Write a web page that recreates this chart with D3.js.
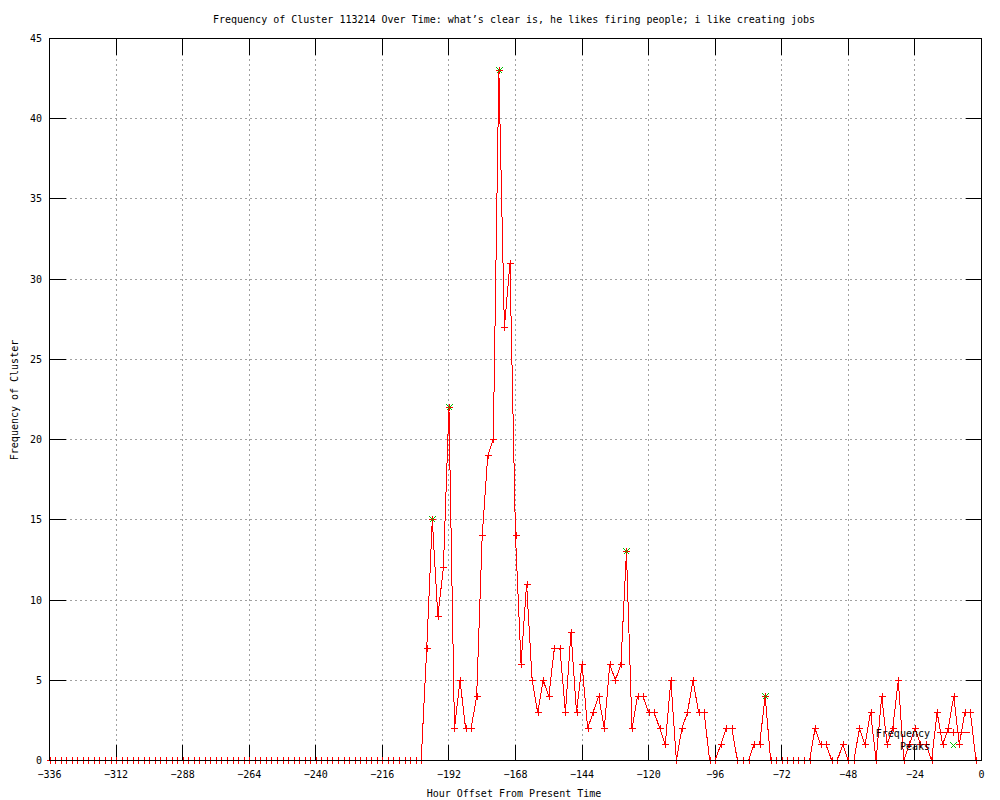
<!DOCTYPE html>
<html><head><meta charset="utf-8">
<script src="https://cdn.jsdelivr.net/npm/d3@7"></script>
<style>body{margin:0;background:#fff}svg{display:block}</style>
</head><body>
<script>
const title = "Frequency of Cluster 113214 Over Time: what’s clear is, he likes firing people; i like creating jobs";
const xLabel = "Hour Offset From Present Time";
const yLabel = "Frequency of Cluster";
const legendLabels = ["Frequency", "Peaks"];

// hourly offsets sampled every 2 hours (-336 .. -2)
const hours = d3.range(-336, 0, 2);
const frequency = [
  0,0,0,0,0,0,0,0,0,0, 0,0,0,0,0,0,0,0,0,0,
  0,0,0,0,0,0,0,0,0,0, 0,0,0,0,0,0,0,0,0,0,
  0,0,0,0,0,0,0,0,0,0, 0,0,0,0,0,0,0,0,0,0,
  0,0,0,0,0,0,0,0,
  7,15,9,12,22,2,5,2,2,4,
  14,19,20,43,27,31,14,6,11,5,
  3,5,4,7,7,3,8,3,6,2,
  3,4,2,6,5,6,13,2,4,4,
  3,3,2,1,5,0,2,3,5,3,
  3,0,0,1,2,2,0,0,0,1,
  1,4,0,0,0,0,0,0,0,0,
  2,1,1,0,0,1,0,0,2,1,
  3,0,4,1,2,5,0,1,2,1,
  1,0,3,1,2,4,1,3,3,0
];
const peakHours = [-198, -192, -174, -128, -78];
const peakValues = [15, 22, 43, 13, 4];
const xTicks = [-336,-312,-288,-264,-240,-216,-192,-168,-144,-120,-96,-72,-48,-24,0];
const yTicks = [0,5,10,15,20,25,30,35,40,45];

const W = 1000, H = 800;
const L = 49.5, R = 981.5, T = 38.5, B = 760.5;
const FONT = "'DejaVu Sans Mono', 'Liberation Mono', monospace";

const svg = d3.select("body").append("svg").attr("width", W).attr("height", H)
  .style("font-family", FONT).style("font-size", "10px");
svg.append("rect").attr("width", W).attr("height", H).attr("fill", "#fff");

const x = d3.scaleLinear().domain([-336, 0]).range([L, R]);
const y = d3.scaleLinear().domain([0, 45]).range([B, T]);

// grid
const grid = svg.append("g").attr("stroke", "#a0a0a0").attr("stroke-dasharray", "2,3")
  .attr("shape-rendering", "crispEdges");
xTicks.slice(1, -1).forEach(t => grid.append("line")
  .attr("x1", x(t)).attr("x2", x(t)).attr("y1", T).attr("y2", B));
yTicks.slice(1, -1).forEach(t => grid.append("line")
  .attr("x1", L).attr("x2", R).attr("y1", y(t)).attr("y2", y(t)));

// ticks (inward on all sides)
const TL = 16;
const tk = svg.append("g").attr("stroke", "#000").attr("shape-rendering", "crispEdges");
xTicks.forEach(t => {
  tk.append("line").attr("x1", x(t)).attr("x2", x(t)).attr("y1", B).attr("y2", B - TL);
  tk.append("line").attr("x1", x(t)).attr("x2", x(t)).attr("y1", T).attr("y2", T + TL);
});
yTicks.forEach(t => {
  tk.append("line").attr("x1", L).attr("x2", L + TL).attr("y1", y(t)).attr("y2", y(t));
  tk.append("line").attr("x1", R).attr("x2", R - TL).attr("y1", y(t)).attr("y2", y(t));
});

// data line
const data = hours.map((h, i) => ({h, v: frequency[i]}));
svg.append("path").datum(data)
  .attr("fill", "none").attr("stroke", "#ff0000").attr("stroke-width", 1)
  .attr("shape-rendering", "crispEdges")
  .attr("d", d3.line().x(d => x(d.h)).y(d => y(d.v)));

const plus = (cx, cy, s) => `M${cx - s},${cy}H${cx + s}M${cx},${cy - s}V${cy + s}`;
const cross = (cx, cy, s) => `M${cx - s},${cy - s}L${cx + s},${cy + s}M${cx - s},${cy + s}L${cx + s},${cy - s}`;

svg.append("path").attr("fill", "none").attr("stroke", "#ff0000")
  .attr("shape-rendering", "crispEdges")
  .attr("d", data.map(d => plus(Math.round(x(d.h)) + 0.5, Math.round(y(d.v) - 0.5) + 0.5, 3.5)).join(""));

svg.append("path").attr("fill", "none").attr("stroke", "#00c000")
  .attr("shape-rendering", "crispEdges")
  .attr("d", peakHours.map((h, i) => cross(Math.round(x(h)) + 0.5, Math.round(y(peakValues[i]) - 0.5) + 0.5, 3)).join(""));

// border
svg.append("rect").attr("x", L).attr("y", T).attr("width", R - L).attr("height", B - T)
  .attr("fill", "none").attr("stroke", "#000").attr("shape-rendering", "crispEdges");

// tick labels
svg.append("g").selectAll("text").data(xTicks).join("text")
  .attr("x", d => x(d)).attr("y", 778).attr("text-anchor", "middle")
  .text(d => d3.format("d")(d));
svg.append("g").selectAll("text").data(yTicks).join("text")
  .attr("x", 42).attr("y", d => y(d)).attr("dy", "0.35em").attr("text-anchor", "end")
  .text(d => d);

// titles
svg.append("text").attr("x", 514).attr("y", 23).attr("text-anchor", "middle").text(title);
svg.append("text").attr("x", 514).attr("y", 797).attr("text-anchor", "middle").text(xLabel);
svg.append("text").attr("transform", "translate(18,400) rotate(-90)").attr("text-anchor", "middle").text(yLabel);

// legend
const lg = svg.append("g");
lg.append("text").attr("x", 930).attr("y", 733).attr("dy", "0.35em").attr("text-anchor", "end").text(legendLabels[0]);
lg.append("text").attr("x", 930).attr("y", 746).attr("dy", "0.35em").attr("text-anchor", "end").text(legendLabels[1]);
lg.append("line").attr("x1", 937).attr("x2", 970).attr("y1", 732.5).attr("y2", 732.5)
  .attr("stroke", "#ff0000").attr("shape-rendering", "crispEdges");
lg.append("path").attr("fill", "none").attr("stroke", "#ff0000").attr("shape-rendering", "crispEdges")
  .attr("d", plus(953.5, 732.5, 3.5));
lg.append("path").attr("fill", "none").attr("stroke", "#00c000").attr("shape-rendering", "crispEdges")
  .attr("d", cross(953.5, 745.5, 3));
</script>
</body></html>
